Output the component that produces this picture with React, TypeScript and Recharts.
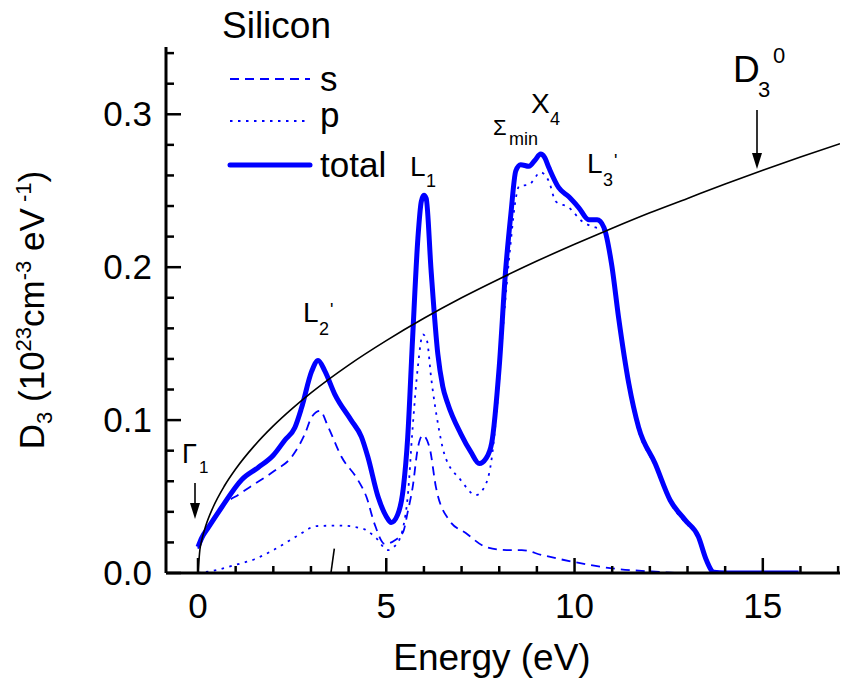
import React from "react";
import { LineChart, Line, XAxis, YAxis, ReferenceLine } from "recharts";

// total DOS (thick)
const totalE = [0, 0.1, 0.28, 0.63, 1.16, 1.6, 2.0, 2.31, 2.57, 2.75, 3.02, 3.19, 3.37, 3.63, 4.07, 4.34, 4.51, 4.78, 5.0, 5.13, 5.3, 5.45, 5.57, 5.7, 5.84, 5.93, 6.0, 6.06, 6.19, 6.37, 6.5, 6.63, 6.98, 7.25, 7.47, 7.65, 7.8, 8.0, 8.17, 8.31, 8.44, 8.57, 8.79, 8.95, 9.1, 9.2, 9.32, 9.58, 9.85, 10.11, 10.38, 10.6, 10.78, 10.99, 11.17, 11.44, 11.7, 12.14, 12.54, 12.94, 13.29, 13.5, 13.7, 14, 15, 15.95];
const totalD = [0.017, 0.023, 0.030, 0.043, 0.061, 0.069, 0.077, 0.087, 0.095, 0.108, 0.132, 0.139, 0.132, 0.117, 0.0998, 0.089, 0.076, 0.05, 0.037, 0.033, 0.038, 0.055, 0.089, 0.154, 0.219, 0.243, 0.247, 0.245, 0.198, 0.143, 0.122, 0.111, 0.091, 0.079, 0.0716, 0.075, 0.085, 0.135, 0.198, 0.235, 0.263, 0.267, 0.266, 0.27, 0.274, 0.272, 0.265, 0.252, 0.246, 0.239, 0.231, 0.231, 0.226, 0.201, 0.167, 0.124, 0.0954, 0.0716, 0.0476, 0.0346, 0.0237, 0.0085, 0.0005, 0, 0, 0];

// s-like states (dashed)
const sE = [0, 0.2, 0.55, 1.12, 1.52, 2.04, 2.49, 2.84, 3.02, 3.24, 3.46, 3.81, 4.25, 4.47, 4.69, 4.96, 5.2, 5.45, 5.57, 5.7, 5.84, 5.97, 6.15, 6.32, 6.67, 7.12, 7.65, 8.2, 8.6, 9.14, 9.94, 11.0, 12.05, 12.8, 13.2];
const sD = [0.016, 0.026, 0.041, 0.052, 0.0585, 0.067, 0.076, 0.091, 0.102, 0.106, 0.0954, 0.076, 0.0607, 0.05, 0.032, 0.019, 0.021, 0.027, 0.04, 0.056, 0.082, 0.09, 0.082, 0.056, 0.0346, 0.026, 0.017, 0.015, 0.015, 0.0117, 0.0074, 0.003, 0.001, 0, 0];

// p-like states (dotted)
const pE = [0, 0.5, 0.94, 1.5, 2.0, 2.62, 3.15, 3.76, 4.38, 4.74, 5.04, 5.2, 5.35, 5.45, 5.57, 5.7, 5.84, 5.97, 6.08, 6.19, 6.37, 6.54, 6.98, 7.38, 7.6, 7.78, 7.95, 8.1, 8.3, 8.44, 8.53, 8.79, 9.1, 9.32, 9.5, 9.85, 10.2, 10.56, 10.73, 10.99, 11.17, 11.44, 11.7, 12.14, 12.54, 12.94, 13.29, 13.5, 13.7, 14];
const pD = [0, 0.002, 0.005, 0.009, 0.015, 0.024, 0.0307, 0.031, 0.029, 0.0226, 0.015, 0.017, 0.022, 0.03, 0.05, 0.095, 0.135, 0.156, 0.152, 0.128, 0.098, 0.078, 0.0607, 0.051, 0.056, 0.0716, 0.111, 0.16, 0.215, 0.245, 0.253, 0.254, 0.262, 0.256, 0.243, 0.239, 0.23, 0.226, 0.225, 0.198, 0.164, 0.121, 0.093, 0.07, 0.046, 0.033, 0.023, 0.008, 0, 0];

// free-electron D3^0 (thin black)
const freeE = [0, 0.05, 0.1, 0.2, 0.4, 0.7, 1, 1.5, 2, 2.5, 3, 4, 5, 6, 7, 8, 9, 10, 11, 12, 13, 14, 15, 16, 17.05];
const freeD = [0, 0.0152, 0.0215, 0.0304, 0.043, 0.0569, 0.068, 0.0833, 0.0962, 0.1075, 0.1178, 0.136, 0.152, 0.1666, 0.18, 0.1923, 0.204, 0.215, 0.2255, 0.2356, 0.245, 0.2544, 0.2634, 0.272, 0.2808];

const xTicks = [0, 1, 2, 3, 4, 5, 6, 7, 8, 9, 10, 11, 12, 13, 14, 15, 16, 17];
const yTicks = [0, 0.02, 0.04, 0.06, 0.08, 0.1, 0.12, 0.14, 0.16, 0.18, 0.2, 0.22, 0.24, 0.26, 0.28, 0.3, 0.32, 0.34];

const pts = (xs: number[], ys: number[]) => xs.map((x, i) => ({ x, y: ys[i] }));

const FONT = "'Liberation Sans', Arial, sans-serif";
const BLUE = "#0000ff";

const XTick = (props: any) => {
  const { x, y, payload } = props;
  const major = payload.value % 5 === 0;
  return (
    <g>
      <line x1={x} x2={x} y1={y} y2={y - (major ? 15 : 7)} stroke="#000" strokeWidth={2.5} />
      {major && (
        <text x={x} y={y + 45} textAnchor="middle" fontSize={35} fontFamily={FONT} fill="#000">
          {payload.value}
        </text>
      )}
    </g>
  );
};

const YTick = (props: any) => {
  const { x, y, payload } = props;
  const major = Math.round(payload.value * 100) % 10 === 0;
  return (
    <g>
      <line x1={x} x2={x + (major ? 15 : 8)} y1={y} y2={y} stroke="#000" strokeWidth={2.5} />
      {major && (
        <text x={x - 14} y={y + 12} textAnchor="end" fontSize={35} fontFamily={FONT} fill="#000">
          {payload.value.toFixed(1)}
        </text>
      )}
    </g>
  );
};

export default function App() {
  return (
    <div style={{ position: "absolute", left: 0, top: 0, width: 843, height: 691, background: "#fff" }}>
      <LineChart
        width={843}
        height={691}
        margin={{ top: 47, right: 3, bottom: 8, left: 6 }}
      >
        <XAxis
          type="number"
          dataKey="x"
          domain={[-0.85, 17.05]}
          allowDataOverflow
          ticks={xTicks}
          interval={0}
          tickSize={0}
          tickMargin={0}
          tickLine={false}
          tick={<XTick />}
          height={110}
          axisLine={{ stroke: "#000", strokeWidth: 3 }}
        />
        <YAxis
          type="number"
          dataKey="y"
          domain={[0, 0.344]}
          allowDataOverflow
          ticks={yTicks}
          interval={0}
          tickSize={0}
          tickMargin={0}
          tickLine={false}
          tick={<YTick />}
          width={160}
          axisLine={{ stroke: "#000", strokeWidth: 3 }}
        />
        <Line data={pts(sE, sD)} dataKey="y" type="monotone" stroke={BLUE} strokeWidth={1.8} strokeDasharray="9 6" dot={false} isAnimationActive={false} />
        <Line data={pts(pE, pD)} dataKey="y" type="monotone" stroke={BLUE} strokeWidth={1.8} strokeDasharray="2.5 5.5" dot={false} isAnimationActive={false} />
        <Line data={pts(totalE, totalD)} dataKey="y" type="monotone" stroke={BLUE} strokeWidth={5} dot={false} isAnimationActive={false} />
        <Line data={pts(freeE, freeD)} dataKey="y" type="monotone" stroke="#000" strokeWidth={1.6} dot={false} isAnimationActive={false} />
        <ReferenceLine segment={[{ x: 3.53, y: 0 }, { x: 3.62, y: 0.016 }]} stroke="#000" strokeWidth={1.6} />
      </LineChart>
      <svg width={843} height={691} style={{ position: "absolute", left: 0, top: 0, pointerEvents: "none" }}>
        <g fontFamily={FONT} fill="#000">
          <text x={222} y={38} fontSize={37}>Silicon</text>

          <line x1={230} x2={310} y1={79} y2={79} stroke={BLUE} strokeWidth={1.8} strokeDasharray="9 6" />
          <text x={320} y={91} fontSize={35}>s</text>
          <line x1={230} x2={310} y1={121} y2={121} stroke={BLUE} strokeWidth={1.8} strokeDasharray="2.5 5.5" />
          <text x={320} y={127} fontSize={35}>p</text>
          <line x1={230} x2={310} y1={165} y2={165} stroke={BLUE} strokeWidth={5} strokeLinecap="round" />
          <text x={320} y={177} fontSize={35}>total</text>

          <text transform="rotate(-90)" x={-310} y={44} textAnchor="middle" fontSize={35}>
            <tspan>D</tspan>
            <tspan fontSize={22} dy={8}>3</tspan>
            <tspan dy={-8}> (10</tspan>
            <tspan fontSize={22} dy={-13}>23</tspan>
            <tspan dy={13}>cm</tspan>
            <tspan fontSize={22} dy={-13}>-3</tspan>
            <tspan dy={13}> eV</tspan>
            <tspan fontSize={22} dy={-13}> -1</tspan>
            <tspan dy={13}>)</tspan>
          </text>
          <text x={492} y={670} textAnchor="middle" fontSize={37}>Energy (eV)</text>

          <text x={182} y={463} fontSize={27}>Γ</text>
          <text x={199} y={473} fontSize={17}>1</text>
          <line x1={195} x2={195} y1={483} y2={504} stroke="#000" strokeWidth={1.6} />
          <path d="M190,503 L195,519 L200,503 Z" fill="#000" />

          <text x={303} y={322} fontSize={28}>L</text>
          <text x={319} y={335} fontSize={18}>2</text>
          <text x={330} y={316} fontSize={18}>'</text>

          <text x={410} y={176} fontSize={28}>L</text>
          <text x={426} y={187} fontSize={18}>1</text>

          <text x={493} y={135} fontSize={22}>Σ</text>
          <text x={509} y={145} fontSize={18}>min</text>

          <text x={531} y={113} fontSize={28}>X</text>
          <text x={550} y={125} fontSize={18}>4</text>

          <text x={587} y={173} fontSize={28}>L</text>
          <text x={603} y={186} fontSize={18}>3</text>
          <text x={614} y={167} fontSize={18}>'</text>

          <text x={733} y={82} fontSize={37}>D</text>
          <text x={758} y={97} fontSize={22}>3</text>
          <text x={773} y={63} fontSize={22}>0</text>
          <line x1={757} x2={757} y1={110} y2={154} stroke="#000" strokeWidth={1.6} />
          <path d="M752,153 L757,169 L762,153 Z" fill="#000" />
        </g>
      </svg>
    </div>
  );
}
